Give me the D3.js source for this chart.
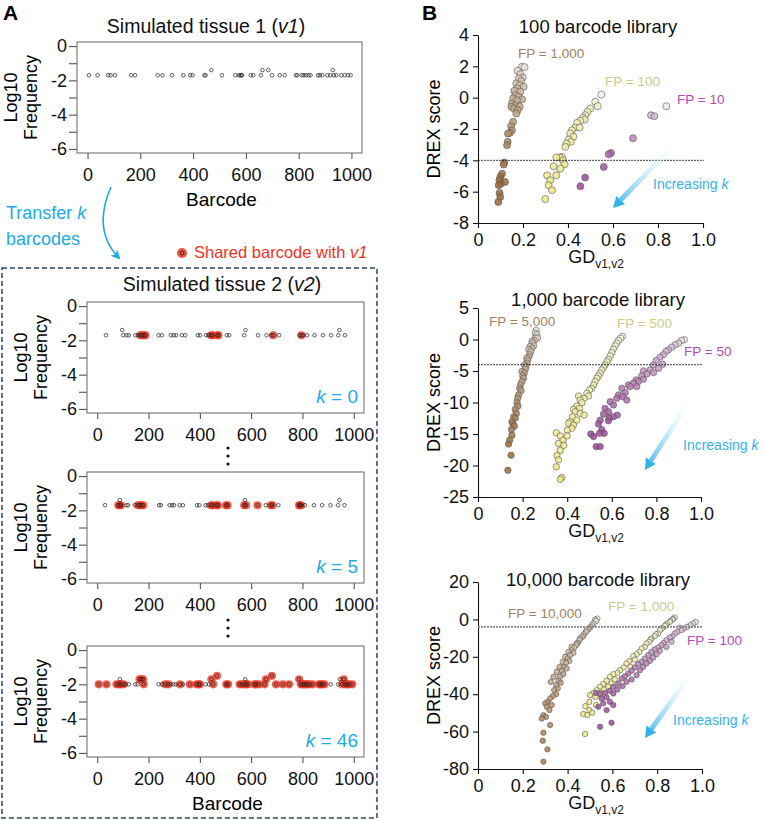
<!DOCTYPE html>
<html>
<head>
<meta charset="utf-8">
<script src="https://cdn.jsdelivr.net/npm/d3@7"></script>
<style>
  body { margin: 0; background: #fff; }
  text { font-family: "Liberation Sans", Arial, sans-serif; }
</style>
</head>
<body>
<svg id="fig" width="763" height="821"></svg>
<script>
// ---------- data: panel A (barcode, log10 frequency, shared with v1) ----------
const tissue1 = [[5,-1.7],[38,-1.7],[78,-1.7],[87,-1.7],[104,-1.7],[165,-1.7],[180,-1.7],[266,-1.7],[284,-1.7],[320,-1.7],[363,-1.7],[389,-1.7],[398,-1.7],[443,-1.7],[447,-1.7],[469,-1.4],[509,-1.7],[560,-1.7],[573,-1.7],[579,-1.7],[583,-1.7],[585,-1.7],[618,-1.7],[628,-1.7],[657,-1.7],[663,-1.4],[685,-1.4],[699,-1.7],[728,-1.7],[747,-1.7],[790,-1.7],[795,-1.7],[812,-1.7],[819,-1.7],[828,-1.7],[838,-1.7],[845,-1.7],[873,-1.7],[880,-1.7],[890,-1.7],[909,-1.7],[920,-1.7],[929,-1.4],[933,-1.7],[942,-1.7],[961,-1.7],[974,-1.7],[987,-1.7],[997,-1.7]];

const tissue2k0 = [[34,-1.7,0],[97,-1.4,0],[101,-1.7,0],[114,-1.7,0],[123,-1.7,0],[149,-1.7,0],[158,-1.7,0],[168,-1.7,1],[175,-1.7,1],[181,-1.7,1],[188,-1.7,1],[239,-1.7,0],[252,-1.7,0],[287,-1.7,0],[298,-1.7,0],[307,-1.7,0],[330,-1.7,0],[343,-1.7,0],[392,-1.7,0],[401,-1.7,0],[424,-1.7,0],[433,-1.7,0],[444,-1.7,1],[449,-1.7,1],[468,-1.7,1],[472,-1.7,1],[505,-1.7,0],[514,-1.7,0],[573,-1.7,0],[578,-1.4,0],[627,-1.7,0],[660,-1.7,0],[679,-1.7,0],[686,-1.7,1],[709,-1.7,0],[789,-1.7,0],[796,-1.7,1],[802,-1.7,0],[818,-1.7,0],[847,-1.7,0],[880,-1.7,0],[912,-1.7,0],[940,-1.7,0],[944,-1.4,0],[966,-1.7,0]];

const tissue2k5 = [[30,-1.7,0],[82,-1.7,1],[88,-1.7,1],[88,-1.4,0],[92,-1.7,1],[114,-1.7,0],[120,-1.7,0],[146,-1.7,0],[159,-1.7,1],[166,-1.7,1],[172,-1.7,1],[179,-1.7,1],[241,-1.7,0],[248,-1.7,0],[282,-1.7,0],[291,-1.7,0],[299,-1.7,0],[321,-1.7,0],[334,-1.7,0],[389,-1.7,0],[398,-1.7,0],[422,-1.7,0],[431,-1.7,0],[444,-1.7,1],[450,-1.7,1],[466,-1.7,1],[470,-1.7,1],[502,-1.7,1],[508,-1.7,1],[573,-1.7,1],[576,-1.4,0],[580,-1.7,1],[625,-1.7,1],[657,-1.7,0],[677,-1.7,1],[683,-1.7,1],[706,-1.7,0],[787,-1.7,1],[790,-1.7,1],[794,-1.7,1],[810,-1.7,0],[845,-1.7,0],[877,-1.7,0],[909,-1.7,0],[939,-1.7,0],[944,-1.4,0],[964,-1.7,0]];

const tissue2k46 = [[6,-2,1],[36,-2,1],[75,-2,1],[84,-2,1],[88,-1.7,0],[93,-2,1],[103,-2,1],[112,-2,0],[123,-2,0],[148,-2,0],[157,-2,0],[165,-1.7,1],[172,-1.7,1],[178,-1.7,1],[181,-2,1],[239,-2,0],[252,-2,0],[265,-2,1],[277,-2,1],[286,-2,0],[297,-2,0],[306,-2,0],[323,-2,1],[335,-2,0],[361,-2,1],[387,-2,1],[396,-2,1],[400,-2,1],[423,-2,0],[435,-2,0],[445,-1.7,1],[452,-2,1],[467,-1.5,1],[503,-2,1],[510,-2,1],[555,-2,1],[564,-2,1],[574,-2,1],[577,-1.7,0],[581,-2,1],[587,-2,1],[613,-2,1],[619,-2,1],[630,-2,1],[652,-2,1],[658,-1.7,1],[681,-1.5,1],[697,-2,1],[723,-2,1],[748,-2,1],[787,-1.7,1],[794,-2,1],[800,-2,1],[806,-2,1],[813,-2,1],[819,-2,1],[826,-2,1],[839,-2,1],[865,-2,1],[871,-2,1],[877,-2,1],[886,-2,1],[910,-2,0],[939,-2,0],[946,-1.7,0],[955,-2,1],[961,-1.7,1],[968,-2,1],[974,-2,1],[981,-2,1],[994,-2,1]];

const logTicks = [0,-1,-2,-3,-4,-5,-6];
const barcodeTicks = [0,200,400,600,800,1000];

// ---------- data: panel B (GD v1,v2 , DREX score) ----------
const lib100fp1000 = [[0.196,1.97],[0.207,1.95],[0.176,1.72],[0.188,1.5],[0.199,1.29],[0.181,1.23],[0.191,1.06],[0.17,0.91],[0.185,0.8],[0.203,0.7],[0.173,0.59],[0.161,0.44],[0.188,0.38],[0.166,0.16],[0.181,0.06],[0.156,-0.05],[0.173,-0.16],[0.196,-0.11],[0.151,-0.37],[0.166,-0.48],[0.185,-0.58],[0.159,-0.69],[0.176,-0.8],[0.148,-0.58],[0.17,-1.01],[0.156,-1.54],[0.147,-1.82],[0.151,-2.08],[0.141,-2.25],[0.133,-2.29],[0.132,-2.82],[0.129,-3.04],[0.117,-4.14],[0.114,-4.27],[0.107,-4.85],[0.099,-5.06],[0.095,-5.27],[0.12,-5.38],[0.101,-5.49],[0.092,-5.59],[0.096,-6.08],[0.099,-6.34],[0.09,-6.66]];
const lib100fp100 = [[0.548,0.2],[0.521,-0.26],[0.532,-0.54],[0.499,-0.69],[0.487,-0.9],[0.477,-1.12],[0.467,-1.27],[0.474,-1.4],[0.455,-1.48],[0.44,-1.61],[0.433,-1.91],[0.452,-1.91],[0.418,-2.08],[0.41,-2.29],[0.424,-2.5],[0.403,-2.67],[0.413,-2.82],[0.393,-2.93],[0.388,-3.14],[0.373,-3.78],[0.363,-3.82],[0.348,-3.82],[0.378,-4.0],[0.385,-4.25],[0.336,-4.38],[0.366,-4.53],[0.307,-4.96],[0.348,-4.96],[0.321,-5.27],[0.314,-5.59],[0.329,-5.91],[0.299,-6.47]];
const lib100fp10 = [[0.837,-0.54],[0.784,-1.18],[0.769,-1.12],[0.689,-2.59],[0.591,-3.53],[0.581,-3.61],[0.559,-4.42],[0.476,-5.1],[0.455,-5.66]];

const lib1000fp5000 = [[0.261,1.44],[0.257,1.0],[0.264,0.75],[0.257,0.22],[0.267,0.22],[0.252,-0.15],[0.242,-0.3],[0.246,-0.58],[0.249,-1.0],[0.234,-1.1],[0.242,-1.37],[0.228,-1.6],[0.237,-1.9],[0.231,-2.43],[0.227,-2.8],[0.219,-2.96],[0.222,-3.34],[0.219,-3.76],[0.209,-4.03],[0.215,-4.29],[0.212,-4.72],[0.197,-5.09],[0.207,-5.36],[0.201,-5.78],[0.204,-6.15],[0.197,-6.68],[0.19,-7.21],[0.187,-7.75],[0.193,-8.12],[0.182,-8.81],[0.178,-9.34],[0.175,-10.03],[0.179,-10.56],[0.167,-11.1],[0.172,-11.73],[0.16,-12.26],[0.167,-12.5],[0.152,-13.06],[0.157,-13.43],[0.163,-13.75],[0.15,-14.28],[0.152,-15.18],[0.142,-15.98],[0.137,-16.6],[0.148,-18.37],[0.134,-20.76]];
const lib1000fp500 = [[0.648,0.49],[0.64,0.22],[0.63,-0.15],[0.622,-0.58],[0.615,-1.0],[0.607,-1.53],[0.6,-2.06],[0.593,-2.6],[0.585,-3.13],[0.578,-3.5],[0.57,-4.03],[0.563,-4.4],[0.555,-4.82],[0.548,-5.36],[0.54,-5.78],[0.533,-6.15],[0.525,-6.68],[0.518,-7.21],[0.51,-7.75],[0.5,-8.0],[0.488,-8.54],[0.496,-8.97],[0.476,-9.34],[0.458,-9.6],[0.451,-8.97],[0.466,-10.03],[0.443,-10.56],[0.455,-10.93],[0.428,-11.1],[0.436,-11.46],[0.458,-11.73],[0.476,-12.0],[0.424,-12.26],[0.443,-12.8],[0.413,-13.06],[0.406,-13.3],[0.428,-13.6],[0.421,-14.1],[0.4,-14.4],[0.351,-14.8],[0.369,-15.3],[0.4,-15.3],[0.381,-16.0],[0.361,-16.5],[0.385,-16.8],[0.369,-17.6],[0.354,-18.4],[0.361,-19.1],[0.351,-20.2],[0.376,-21.9],[0.369,-22.2]];
const lib1000fp50 = [[0.925,-0.04],[0.913,-0.15],[0.899,-0.58],[0.884,-0.84],[0.869,-1.21],[0.854,-1.64],[0.843,-1.9],[0.831,-2.43],[0.816,-2.8],[0.799,-3.34],[0.828,-3.92],[0.787,-4.03],[0.81,-4.56],[0.772,-4.82],[0.742,-4.98],[0.787,-5.25],[0.757,-5.46],[0.734,-5.78],[0.709,-6.42],[0.742,-6.31],[0.719,-6.68],[0.697,-6.95],[0.675,-7.21],[0.712,-7.48],[0.682,-7.48],[0.645,-7.75],[0.66,-8.44],[0.63,-8.81],[0.649,-9.07],[0.622,-9.34],[0.667,-9.6],[0.593,-9.87],[0.607,-10.4],[0.57,-10.93],[0.585,-11.46],[0.563,-11.84],[0.625,-12.0],[0.607,-12.26],[0.588,-12.5],[0.585,-12.9],[0.548,-12.8],[0.54,-13.4],[0.555,-14.3],[0.566,-14.9],[0.545,-14.9],[0.506,-15.0],[0.518,-15.4],[0.53,-17.0],[0.548,-17.0]];

const lib10000fp10000 = [[0.533,0.4],[0.522,-0.1],[0.527,-0.8],[0.515,-2.2],[0.509,-3.1],[0.503,-4.0],[0.497,-4.6],[0.493,-5.4],[0.485,-5.8],[0.482,-6.7],[0.473,-7.9],[0.47,-9.0],[0.463,-9.4],[0.455,-10.2],[0.453,-11.1],[0.445,-12.6],[0.441,-12.9],[0.438,-13.8],[0.418,-14.7],[0.429,-15.1],[0.418,-16.5],[0.404,-17.4],[0.426,-17.9],[0.411,-19.1],[0.389,-20.0],[0.401,-20.9],[0.408,-22.2],[0.378,-22.7],[0.393,-23.2],[0.384,-25.4],[0.364,-25.4],[0.396,-26.3],[0.374,-27.5],[0.352,-28.0],[0.381,-29.3],[0.366,-30.7],[0.337,-30.7],[0.359,-32.8],[0.325,-33.4],[0.369,-33.9],[0.349,-35.2],[0.356,-36.9],[0.34,-37.8],[0.349,-40.0],[0.334,-41.0],[0.322,-42.3],[0.31,-44.1],[0.3,-44.9],[0.329,-45.8],[0.307,-46.7],[0.319,-48.5],[0.292,-51.2],[0.304,-52.1],[0.285,-53.0],[0.322,-56.5],[0.292,-60.6],[0.289,-64.9],[0.31,-69.5],[0.292,-76.1]];
const lib10000fp1000 = [[0.878,1.0],[0.871,0.25],[0.868,-0.1],[0.859,-0.8],[0.856,-1.4],[0.844,-2.2],[0.838,-3.0],[0.834,-3.5],[0.823,-4.6],[0.819,-5.1],[0.812,-5.8],[0.804,-7.6],[0.794,-7.9],[0.789,-9.0],[0.774,-10.2],[0.77,-10.8],[0.764,-12.0],[0.752,-12.9],[0.745,-14.7],[0.73,-15.6],[0.72,-17.4],[0.708,-18.6],[0.693,-19.7],[0.7,-21.5],[0.675,-22.3],[0.663,-23.6],[0.681,-25.4],[0.651,-25.7],[0.634,-27.2],[0.622,-28.6],[0.604,-29.3],[0.589,-30.7],[0.611,-32.1],[0.574,-32.8],[0.596,-34.3],[0.559,-34.6],[0.582,-36.0],[0.545,-36.0],[0.562,-37.5],[0.53,-37.8],[0.515,-39.3],[0.545,-40.0],[0.5,-40.5],[0.524,-41.4],[0.497,-44.1],[0.527,-45.8],[0.479,-46.4],[0.497,-48.5],[0.51,-49.9],[0.47,-50.6],[0.488,-51.2],[0.478,-61.3]];
const lib10000fp100 = [[0.972,-1.4],[0.96,-2.2],[0.948,-3.1],[0.933,-4.0],[0.901,-4.4],[0.918,-4.9],[0.908,-5.8],[0.889,-6.7],[0.878,-7.6],[0.868,-9.0],[0.856,-9.7],[0.841,-11.1],[0.864,-12.0],[0.829,-12.6],[0.819,-13.8],[0.841,-14.7],[0.804,-15.1],[0.789,-16.1],[0.812,-16.8],[0.774,-17.4],[0.797,-18.6],[0.76,-19.1],[0.782,-20.4],[0.745,-20.9],[0.767,-22.2],[0.73,-22.7],[0.752,-23.6],[0.715,-23.9],[0.737,-25.4],[0.7,-25.7],[0.723,-27.2],[0.686,-27.5],[0.671,-28.9],[0.708,-29.8],[0.656,-30.4],[0.641,-31.6],[0.686,-32.1],[0.663,-33.4],[0.626,-34.3],[0.645,-35.7],[0.604,-36.0],[0.622,-37.5],[0.589,-38.2],[0.567,-39.3],[0.527,-39.3],[0.604,-39.6],[0.545,-39.6],[0.574,-41.7],[0.552,-42.3],[0.589,-44.1],[0.559,-44.9],[0.604,-45.8],[0.537,-46.7],[0.574,-48.5],[0.596,-55.3],[0.545,-57.4]];

const gdTicks = [0,0.2,0.4,0.6,0.8,1.0];
const drexTicks100 = [4,2,0,-2,-4,-6,-8];
const drexTicks1000 = [5,0,-5,-10,-15,-20,-25];
const drexTicks10000 = [20,0,-20,-40,-60,-80];
const drexCutoff = -4;

const brown = "#9a6a38", khaki = "#ecea84", purple = "#9a4898";
const blue = "#1eaae4", red = "#f0321e";
const FONT = "Liberation Sans, Arial, sans-serif";

const svg = d3.select("#fig");
const defs = svg.append("defs");

// ---------- panel A ----------
function stripPlot(points, box, opts) {
    const x = d3.scaleLinear().domain([-40, 1040]).range([box.x0, box.x1]);
    const y = d3.scaleLinear().domain([-6.24, 0.24]).range([box.y1, box.y0]);

    const ya = svg.append("g")
        .attr("transform", `translate(${box.x0},0)`)
        .call(d3.axisLeft(y).tickValues(logTicks).tickSize(8).tickPadding(2)
            .tickFormat(d => d % 2 === 0 ? String(d) : ""));
    ya.select(".domain").remove();
    ya.selectAll("line").attr("stroke", "#444");
    ya.selectAll("text").attr("font-size", 18).attr("fill", "#111").attr("font-family", FONT);

    const xa = svg.append("g")
        .attr("transform", `translate(0,${box.y1})`)
        .call(d3.axisBottom(x).tickValues(barcodeTicks).tickSize(6).tickPadding(9)
            .tickFormat(d => String(d)));
    xa.select(".domain").remove();
    xa.selectAll("line").attr("stroke", "#444");
    xa.selectAll("text").attr("font-size", 18).attr("fill", "#111").attr("font-family", FONT);

    svg.append("rect")
        .attr("x", box.x0).attr("y", box.y0)
        .attr("width", box.x1 - box.x0).attr("height", box.y1 - box.y0)
        .attr("fill", "none").attr("stroke", "#666").attr("stroke-width", 1);

    // shared barcodes in red underneath
    svg.append("g").selectAll("circle")
        .data(points.filter(d => d[2] === 1))
        .enter().append("circle")
        .attr("cx", d => x(d[0])).attr("cy", d => y(d[1]))
        .attr("r", 4.1).attr("fill", red).attr("fill-opacity", 0.78);

    svg.append("g").selectAll("circle")
        .data(points)
        .enter().append("circle")
        .attr("cx", d => x(d[0])).attr("cy", d => y(d[1]))
        .attr("r", 1.8).attr("fill", "none")
        .attr("stroke", "#222").attr("stroke-width", 0.7);

    const cy = (box.y0 + box.y1) / 2;
    svg.append("text")
        .attr("transform", `translate(${box.x0 - 60},${cy}) rotate(-90)`)
        .attr("text-anchor", "middle").attr("font-size", 18).text("Log10");
    svg.append("text")
        .attr("transform", `translate(${box.x0 - 40},${cy}) rotate(-90)`)
        .attr("text-anchor", "middle").attr("font-size", 18).text("Frequency");

    if (opts.xlabel) {
        svg.append("text")
            .attr("x", (box.x0 + box.x1) / 2 + 2).attr("y", box.y1 + 53)
            .attr("text-anchor", "middle").attr("font-size", 19).text("Barcode");
    }
    if (opts.k !== undefined) {
        const t = svg.append("text")
            .attr("x", box.x1 - 6).attr("y", box.y1 - 10)
            .attr("text-anchor", "end").attr("font-size", 19).attr("fill", blue);
        t.append("tspan").attr("font-style", "italic").text("k");
        t.append("tspan").text(" = " + opts.k);
    }
}

function title(x, y, main, ital) {
    const t = svg.append("text").attr("x", x).attr("y", y)
        .attr("text-anchor", "middle").attr("font-size", 19.5).attr("fill", "#111");
    t.append("tspan").text(main + " (");
    t.append("tspan").attr("font-style", "italic").text(ital);
    t.append("tspan").text(")");
}

title(206, 33, "Simulated tissue 1", "v1");
stripPlot(tissue1, {x0: 77, x1: 362, y0: 42, y1: 153}, {xlabel: true});

// transfer arrow
defs.append("marker").attr("id", "bluehead")
    .attr("viewBox", "0 0 10 10").attr("refX", 8).attr("refY", 5)
    .attr("markerWidth", 6).attr("markerHeight", 6).attr("orient", "auto")
    .append("path").attr("d", "M0,0 L10,5 L0,10 L3,5 Z").attr("fill", blue);
svg.append("path").attr("d", "M111,187 Q92,230 119,258")
    .attr("fill", "none").attr("stroke", blue).attr("stroke-width", 1.6)
    .attr("marker-end", "url(#bluehead)");
const tk = svg.append("text").attr("x", 6).attr("y", 219).attr("font-size", 18).attr("fill", blue);
tk.append("tspan").text("Transfer ");
tk.append("tspan").attr("font-style", "italic").text("k");
svg.append("text").attr("x", 6).attr("y", 245).attr("font-size", 18).attr("fill", blue).text("barcodes");

// shared legend
svg.append("circle").attr("cx", 182).attr("cy", 253).attr("r", 5).attr("fill", red).attr("fill-opacity", 0.85);
svg.append("circle").attr("cx", 182).attr("cy", 253).attr("r", 2).attr("fill", "none").attr("stroke", "#222").attr("stroke-width", 0.8);
const sl = svg.append("text").attr("x", 194).attr("y", 258).attr("font-size", 16.5).attr("fill", red);
sl.append("tspan").text("Shared barcode with ");
sl.append("tspan").attr("font-style", "italic").text("v1");

// dashed frame
svg.append("rect").attr("x", 2).attr("y", 268).attr("width", 375).attr("height", 550)
    .attr("fill", "none").attr("stroke", "#2e4470").attr("stroke-width", 1.5)
    .attr("stroke-dasharray", "5,3");

title(222, 291, "Simulated tissue 2", "v2");
stripPlot(tissue2k0, {x0: 87, x1: 364, y0: 302, y1: 413}, {k: 0});
stripPlot(tissue2k5, {x0: 87, x1: 364, y0: 472, y1: 583}, {k: 5});
stripPlot(tissue2k46, {x0: 87, x1: 364, y0: 646, y1: 757}, {k: 46, xlabel: true});

// vertical ellipses
[448, 456, 464, 620, 628, 636].forEach(cy => {
    svg.append("circle").attr("cx", 228).attr("cy", cy).attr("r", 1.6).attr("fill", "#111");
});

// ---------- panel B ----------
function scatter(cfg) {
    const x = d3.scaleLinear().domain([0, 1]).range([478, cfg.xr]);
    const y = d3.scaleLinear().domain([cfg.ticks[cfg.ticks.length - 1], cfg.ticks[0]])
        .range([cfg.yb, cfg.yt]);

    const ya = svg.append("g").attr("transform", "translate(478,0)")
        .call(d3.axisLeft(y).tickValues(cfg.ticks).tickSize(5).tickPadding(4)
            .tickSizeOuter(0).tickFormat(d => String(d)));
    const xa = svg.append("g").attr("transform", `translate(0,${cfg.yb})`)
        .call(d3.axisBottom(x).tickValues(gdTicks).tickSize(5).tickPadding(5)
            .tickSizeOuter(0).tickFormat(d => d === 0 ? "0" : d.toFixed(1)));
    [ya, xa].forEach(a => {
        a.selectAll("path,line").attr("stroke", "#111").attr("stroke-width", 1.1);
        a.selectAll("text").attr("font-size", 18).attr("fill", "#111").attr("font-family", FONT);
    });

    cfg.series.forEach(s => {
        const ext = d3.extent(s.data, d => d[1]);
        const shade = d => {
            const t = (ext[1] - d[1]) / (ext[1] - ext[0]);
            return d3.interpolateRgb("#f6f4f2", s.color)(Math.min(1, 0.08 + Math.pow(t, 0.6)));
        };
        svg.append("g").selectAll("circle")
            .data(s.data.slice().sort((a, b) => b[1] - a[1]))
            .enter().append("circle")
            .attr("cx", d => x(d[0])).attr("cy", d => y(d[1]))
            .attr("r", cfg.r).attr("fill", shade).attr("fill-opacity", 0.85)
            .attr("stroke", "#555").attr("stroke-width", 0.6);
        svg.append("text").attr("x", s.lx).attr("y", s.ly)
            .attr("font-size", 13.5).attr("fill", s.lcolor).text(s.label);
    });

    svg.append("line")
        .attr("x1", x(0)).attr("x2", x(1.0) + 1)
        .attr("y1", y(drexCutoff)).attr("y2", y(drexCutoff))
        .attr("stroke", cfg.cutColor).attr("stroke-width", cfg.cutWidth)
        .attr("stroke-dasharray", cfg.cutDash);

    // title
    svg.append("text").attr("x", 598).attr("y", cfg.titleY)
        .attr("text-anchor", "middle").attr("font-size", 18.5).attr("fill", "#111").text(cfg.title);
    // axis labels
    svg.append("text")
        .attr("transform", `translate(440,${(cfg.yt + cfg.yb) / 2}) rotate(-90)`)
        .attr("text-anchor", "middle").attr("font-size", 18).text("DREX score");
    const gl = svg.append("text").attr("x", 596).attr("y", cfg.yb + 40)
        .attr("text-anchor", "middle").attr("font-size", 18).attr("fill", "#111");
    gl.append("tspan").text("GD");
    gl.append("tspan").attr("font-size", 12).attr("dy", 5).text("v1,v2");

    // increasing k arrow
    const a = cfg.arrow;
    const gid = "grad" + cfg.id;
    const g = defs.append("linearGradient").attr("id", gid)
        .attr("gradientUnits", "userSpaceOnUse")
        .attr("x1", a[0]).attr("y1", a[1]).attr("x2", a[2]).attr("y2", a[3]);
    g.append("stop").attr("offset", 0).attr("stop-color", "#ffffff").attr("stop-opacity", 0);
    g.append("stop").attr("offset", 1).attr("stop-color", "#35b2ea").attr("stop-opacity", 1);
    const dx = a[2] - a[0], dy = a[3] - a[1], L = Math.hypot(dx, dy);
    const ux = dx / L, uy = dy / L;
    const bx = a[2] - ux * 11, by = a[3] - uy * 11;
    svg.append("line").attr("x1", a[0]).attr("y1", a[1]).attr("x2", bx).attr("y2", by)
        .attr("stroke", `url(#${gid})`).attr("stroke-width", 5);
    svg.append("path")
        .attr("d", `M${a[2]},${a[3]} L${bx - uy * 6},${by + ux * 6} L${bx + uy * 6},${by - ux * 6} Z`)
        .attr("fill", "#35b2ea");
    const it = svg.append("text").attr("x", cfg.ktext[0]).attr("y", cfg.ktext[1])
        .attr("font-size", 14).attr("fill", "#35b2ea");
    it.append("tspan").text("Increasing ");
    it.append("tspan").attr("font-style", "italic").text("k");
}

scatter({
    id: 1, title: "100 barcode library", titleY: 33, r: 3.5,
    ticks: drexTicks100, yt: 35, yb: 223, xr: 703,
    cutColor: "#111", cutWidth: 0.8, cutDash: "2,1",
    arrow: [677, 142, 613, 208], ktext: [653, 189],
    series: [
        {data: lib100fp1000, color: brown, label: "FP = 1,000", lcolor: "#a08263", lx: 518, ly: 58},
        {data: lib100fp100, color: khaki, label: "FP = 100", lcolor: "#cbcb8e", lx: 605, ly: 86},
        {data: lib100fp10, color: purple, label: "FP = 10", lcolor: "#b24cb8", lx: 677, ly: 104}
    ]
});

scatter({
    id: 2, title: "1,000 barcode library", titleY: 306, r: 3.2,
    ticks: drexTicks1000, yt: 308, yb: 497, xr: 701,
    cutColor: "#111", cutWidth: 0.8, cutDash: "2,1",
    arrow: [693, 395, 645, 470], ktext: [683, 450],
    series: [
        {data: lib1000fp5000, color: brown, label: "FP = 5,000", lcolor: "#a08263", lx: 489, ly: 326},
        {data: lib1000fp500, color: khaki, label: "FP = 500", lcolor: "#cbcb8e", lx: 617, ly: 328},
        {data: lib1000fp50, color: purple, label: "FP = 50", lcolor: "#b24cb8", lx: 684, ly: 356}
    ]
});

scatter({
    id: 3, title: "10,000 barcode library", titleY: 586, r: 2.7,
    ticks: drexTicks10000, yt: 582, yb: 769, xr: 702,
    cutColor: "#888", cutWidth: 1.6, cutDash: "2,1",
    arrow: [695, 668, 645, 738], ktext: [673, 725],
    series: [
        {data: lib10000fp10000, color: "#a87c50", label: "FP = 10,000", lcolor: "#a08263", lx: 508, ly: 618},
        {data: lib10000fp1000, color: khaki, label: "FP = 1,000", lcolor: "#cbcb8e", lx: 608, ly: 611},
        {data: lib10000fp100, color: purple, label: "FP = 100", lcolor: "#b24cb8", lx: 687, ly: 645}
    ]
});

// panel letters
svg.append("text").attr("x", 3).attr("y", 20).attr("font-size", 21).attr("font-weight", "bold").text("A");
svg.append("text").attr("x", 422).attr("y", 20).attr("font-size", 21).attr("font-weight", "bold").text("B");
</script>
</body>
</html>
